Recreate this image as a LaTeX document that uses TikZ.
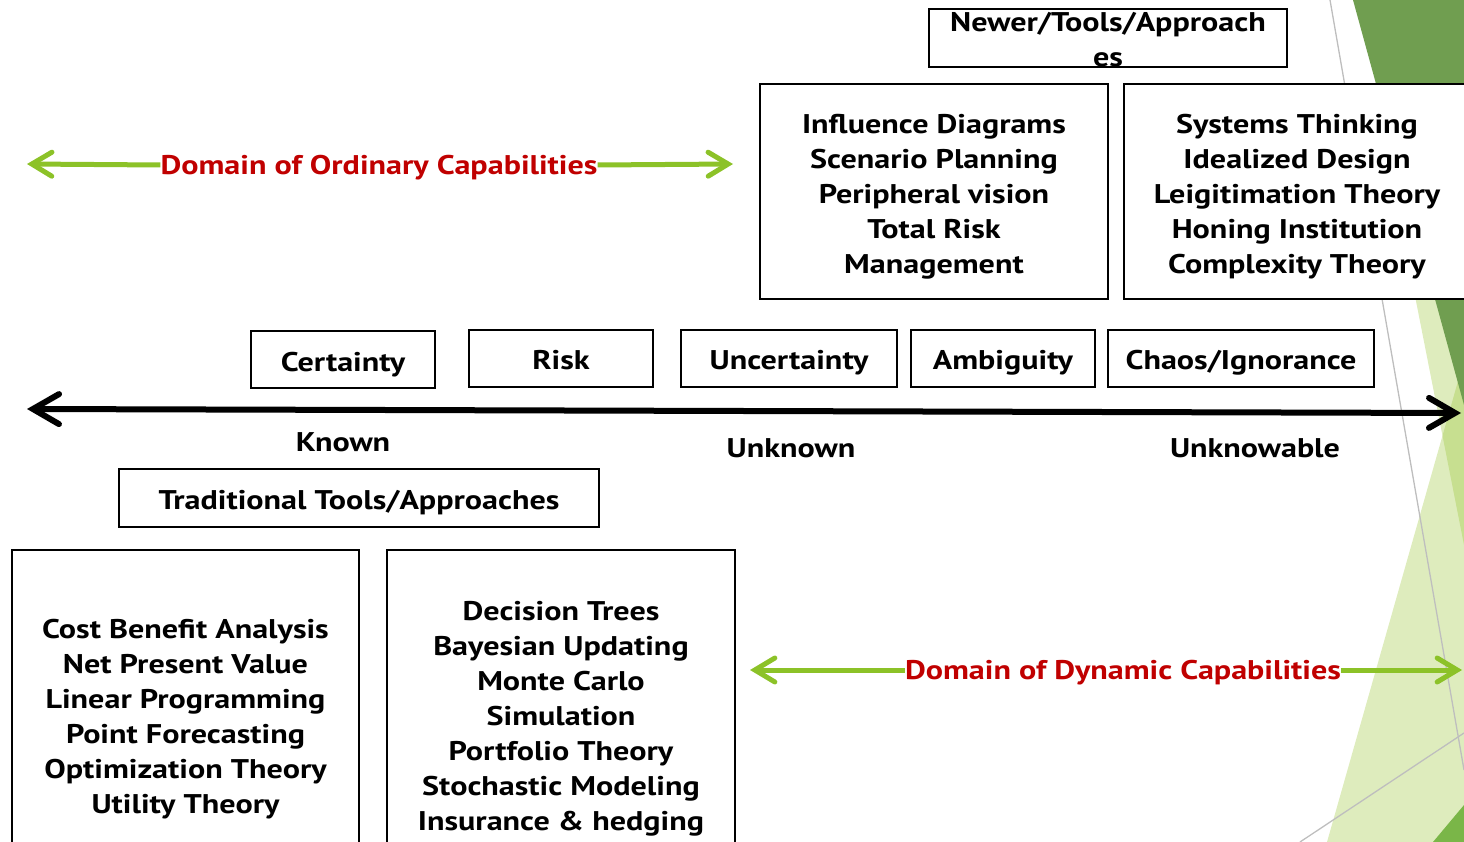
\documentclass[tikz,border=0pt]{standalone}
\usepackage{fontspec}
\setmainfont{PT Sans}[FakeStretch=1.19]
\usetikzlibrary{arrows.meta}
\definecolor{dkgreen}{RGB}{112,158,80}
\definecolor{ltgreen}{RGB}{146,192,38}
\definecolor{brgreen}{RGB}{122,182,72}
\definecolor{arrgreen}{RGB}{140,194,40}
\definecolor{domred}{RGB}{192,0,0}
\definecolor{deco}{RGB}{190,190,190}
\tikzset{
  txt/.style={font=\bfseries\fontsize{27}{35}\selectfont, align=center, inner sep=0pt},
  one/.style={txt, text height=25pt, text depth=6pt},
  redtxt/.style={one, text=domred},
  box/.style={draw=black, line width=1.5pt, fill=white, inner sep=0pt},
  mainarrow/.style={line width=6pt, line cap=round, {Straight Barb[length=26pt,width=30pt,line cap=round]}-{Straight Barb[length=26pt,width=30pt,line cap=round]}},
  grarrow/.style={draw=arrgreen, line width=5pt, -{Straight Barb[length=20pt,width=24pt,line cap=round]}},
}
\begin{document}
\begin{tikzpicture}[x=1pt,y=-1pt]
\useasboundingbox (0,0) rectangle (1464,842);
\clip (0,0) rectangle (1464,842);
% background decoration
\fill[ltgreen, fill opacity=0.3] (1402,230) -- (1464,230) -- (1464,545) -- cycle;
\fill[ltgreen, fill opacity=0.3] (1327,842) -- (1464,360) -- (1464,842) -- cycle;
\fill[dkgreen] (1353,0) -- (1464,0) -- (1464,405) -- cycle;
\fill[brgreen] (1433,842) -- (1464,805) -- (1464,842) -- cycle;
\draw[deco, line width=1.3pt] (1330,0) -- (1464,770);
\draw[deco, line width=1.3pt] (1300,842) -- (1464,733);
% top boxes
\node[box, minimum width=358, minimum height=58] (newerbox) at (1108,38) {};
\node[txt] (newer) at (1108,40) {Newer/Tools/Approach\\es};
\node[box, minimum width=348, minimum height=215] (inflbox) at (934,191.5) {};
\node[txt] (infl) at (934,197) {Influence Diagrams\\Scenario Planning\\Peripheral vision\\Total Risk\\Management};
\node[box, minimum width=346, minimum height=215] (sysbox) at (1297,191.5) {};
\node[txt] (sys) at (1297,197) {Systems Thinking\\Idealized Design\\Leigitimation Theory\\Honing Institution\\Complexity Theory};
% ordinary domain
\node[redtxt] (ord) at (379,165) {Domain of Ordinary Capabilities};
\coordinate (ordL) at (27,164);
\coordinate (ordR) at (733,164);
\draw[grarrow] (ord.west) -- (ordL);
\draw[grarrow] (ord.east) -- (ordR);
% category boxes
\node[box, minimum width=184, minimum height=57] (certbox) at (343,359.5) {};
\node[one] (cert) at (343,362) {Certainty};
\node[box, minimum width=184, minimum height=57] (riskbox) at (561,358.5) {};
\node[one] (risk) at (561,360) {Risk};
\node[box, minimum width=216, minimum height=57] (uncbox) at (789,358.5) {};
\node[one] (unc) at (789,360) {Uncertainty};
\node[box, minimum width=184, minimum height=57] (ambbox) at (1003,358.5) {};
\node[one] (amb) at (1003,360) {Ambiguity};
\node[box, minimum width=266, minimum height=57] (chaosbox) at (1241,358.5) {};
\node[one] (chaos) at (1241,360) {Chaos/Ignorance};
% main axis
\coordinate (axL) at (27,409);
\coordinate (axR) at (1461,413);
\draw[mainarrow] (axL) -- (axR);
\node[one] (known) at (343,442) {Known};
\node[one] (unknown) at (791,448) {Unknown};
\node[one] (unknowable) at (1255,448) {Unknowable};
% traditional
\node[box, minimum width=480, minimum height=58] (tradbox) at (359,498) {};
\node[one] (trad) at (359,500) {Traditional Tools/Approaches};
\node[box, minimum width=347, minimum height=332] (cbabox) at (185.5,716) {};
\node[txt] (cba) at (185.5,719) {Cost Benefit Analysis\\Net Present Value\\Linear Programming\\Point Forecasting\\Optimization Theory\\Utility Theory};
\node[box, minimum width=348, minimum height=332] (dtbox) at (561,716) {};
\node[txt] (dt) at (561,719) {Decision Trees\\Bayesian Updating\\Monte Carlo\\Simulation\\Portfolio Theory\\Stochastic Modeling\\Insurance \& hedging};
% dynamic domain
\node[redtxt] (dyn) at (1123,670) {Domain of Dynamic Capabilities};
\coordinate (dynL) at (750,670);
\coordinate (dynR) at (1462,670);
\draw[grarrow] (dyn.west) -- (dynL);
\draw[grarrow] (dyn.east) -- (dynR);
\end{tikzpicture}
\end{document}
